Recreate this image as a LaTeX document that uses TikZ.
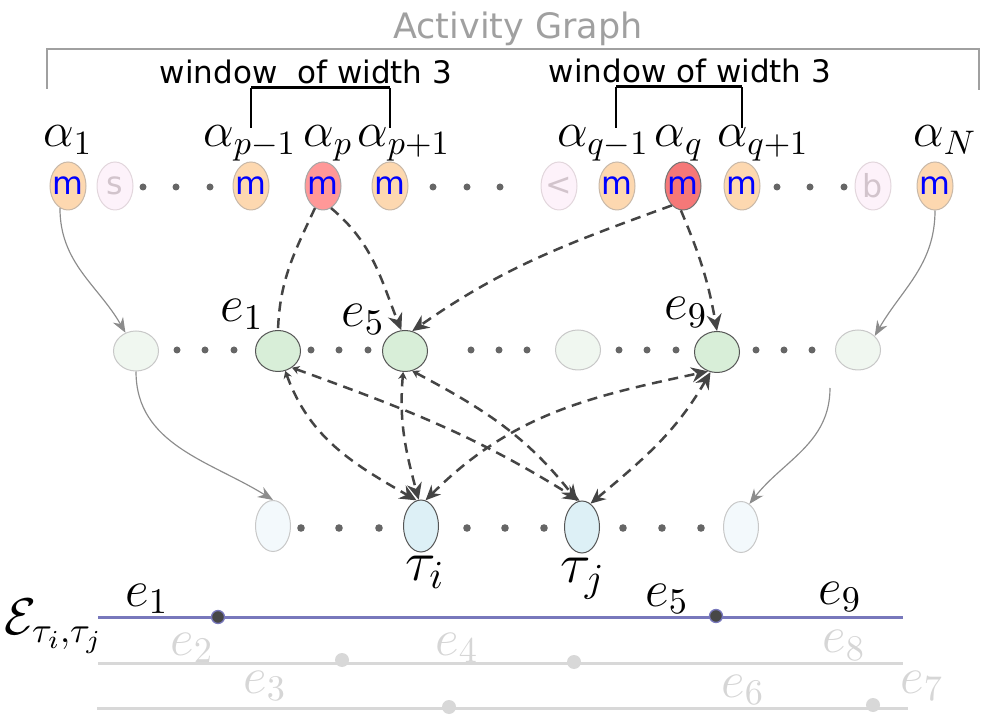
\RequirePackage{fix-cm}
\documentclass[tikz,border=0pt]{standalone}
\usepackage[no-math]{fontspec}
\newfontfamily\dv{DejaVu Sans}
\usetikzlibrary{shapes.geometric,arrows.meta}
\definecolor{peach}{HTML}{FDD8B0}
\definecolor{peachedge}{HTML}{C8B8A8}
\definecolor{redA}{HTML}{FF9898}
\definecolor{redB}{HTML}{F57878}
\definecolor{fadefill}{HTML}{FDF2FA}
\definecolor{fadeedge}{HTML}{E2D6DC}
\definecolor{fadetext}{HTML}{D2C4CC}
\definecolor{greenfill}{HTML}{D8EED8}
\definecolor{greenfade}{HTML}{F0F7F0}
\definecolor{bluefill}{HTML}{DDF0F6}
\definecolor{bluefade}{HTML}{F3F9FC}
\definecolor{darkedge}{HTML}{555555}
\definecolor{lightedge}{HTML}{C8C8C8}
\definecolor{dotgray}{HTML}{666666}
\definecolor{arrdark}{HTML}{444444}
\definecolor{arrgray}{HTML}{8C8C8C}
\definecolor{lineblue}{HTML}{7878BC}
\definecolor{linegray}{HTML}{D8D8D8}
\definecolor{labgray}{HTML}{D6D6D6}
\definecolor{titlegray}{HTML}{A0A0A0}
\newcommand\zw[1]{\makebox[0pt]{#1}}
\begin{document}
\begin{tikzpicture}[x=0.3pt,y=0.3pt,
  base/.style={ellipse, inner sep=0pt, line width=0.3pt},
  mnode/.style={base, draw=peachedge, fill=peach, minimum width=10.8pt, minimum height=14.4pt, text=blue, font=\dv\fontsize{9.5}{10}\selectfont},
  rnodeA/.style={mnode, fill=redA, draw=black!35},
  rnodeB/.style={mnode, fill=redB, draw=black!55},
  fnode/.style={mnode, fill=fadefill, draw=fadeedge, text=fadetext},
  gnode/.style={base, draw=darkedge, fill=greenfill, minimum width=13.5pt, minimum height=12.3pt},
  gfade/.style={base, draw=lightedge, fill=greenfade, minimum width=13.5pt, minimum height=12pt},
  tnode/.style={base, draw=darkedge, fill=bluefill, minimum width=10.5pt, minimum height=15.6pt},
  tfade/.style={base, draw=lightedge, fill=bluefade, minimum width=10.5pt, minimum height=15.3pt},
  alab/.style={anchor=base, inner sep=0pt, font=\fontsize{14.6}{16}\selectfont},
  elab/.style={anchor=base, inner sep=0pt, font=\fontsize{15.5}{18}\selectfont},
  tlab/.style={anchor=base, inner sep=0pt, font=\fontsize{17}{20}\selectfont},
  glab/.style={elab, text=labgray},
  dasharr/.style={draw=arrdark, line width=0.75pt, dash pattern=on 3pt off 2pt, -{Stealth[length=5pt,width=4.5pt]}},
  dashsmall/.style={dasharr, {Stealth[length=2.2pt,width=2.6pt]}-{Stealth[length=5pt,width=4.5pt]}},
  dashboth/.style={dasharr, {Stealth[length=4.5pt,width=4pt]}-{Stealth[length=5pt,width=4.5pt]}},
  grayarr/.style={draw=arrgray, line width=0.35pt, -{Stealth[length=4.5pt,width=3.5pt]}},
  dot/.style={fill=dotgray}
]
\useasboundingbox (0,0) rectangle (984,716);

% title and brackets
\node[anchor=base, inner sep=0pt, text=titlegray, font=\dv\fontsize{10.5}{12}\selectfont] (title) at (518,677) {Activity Graph};
\draw[titlegray, line width=0.45pt] (47,627) -- (47,667) -- (979,667) -- (979,626);
\node[anchor=base, inner sep=0pt, font=\dv\fontsize{9.3}{11}\selectfont] (w1) at (306,632) {window\ \ of width 3};
\node[anchor=base, inner sep=0pt, font=\dv\fontsize{9.3}{11}\selectfont] (w2) at (690,633) {window of width 3};
\draw[line width=0.9pt] (251,628) -- (390,628);
\draw[line width=0.4pt] (251,628) -- (251,588) (390,628) -- (390,588);
\draw[line width=0.9pt] (616,629) -- (742,629);
\draw[line width=0.4pt] (616,629) -- (616,588) (742,629) -- (742,588);

% alpha labels
\node[alab] (la1) at (68,569) {$\alpha_1$};
\node[alab] (lap1) at (250,569) {$\alpha_{p-1}$};
\node[alab] (lap) at (328,569) {$\alpha_p$};
\node[alab] (lap2) at (404,569) {$\alpha_{p+1}$};
\node[alab] (laq1) at (603,569) {$\alpha_{q-1}$};
\node[alab] (laq) at (679,569) {$\alpha_q$};
\node[alab] (laq2) at (763,569) {$\alpha_{q+1}$};
\node[alab] (laN) at (945,569) {$\alpha_N$};

% top row
\node[mnode] (a1) at (68,530) {\zw{m}};
\node[fnode] (s1) at (115,530) {\zw{s}};
\node[mnode] (ap1) at (251,530) {\zw{m}};
\node[rnodeA] (ap) at (323,530) {\zw{m}};
\node[mnode] (ap2) at (390,530) {\zw{m}};
\node[fnode] (lt) at (559,530) {\zw{<}};
\node[mnode] (aq1) at (617,530) {\zw{m}};
\node[rnodeB] (aq) at (683,530) {\zw{m}};
\node[mnode] (aq2) at (742,530) {\zw{m}};
\node[fnode] (bb) at (873,530) {\zw{b}};
\node[mnode] (aN) at (935,530) {\zw{m}};
\foreach \x in {143,176,210,433,467,500,777,810,844} \fill[dot] (\x,529) circle (3.5);

% middle row
\node[gfade] (gL) at (136,365) {};
\node[gnode] (e1) at (278,365) {};
\node[gnode] (e5) at (405,365) {};
\node[gfade] (gM) at (578,366) {};
\node[gnode] (e9) at (717,364) {};
\node[gfade] (gR) at (858,366) {};
\foreach \x in {177,205,234,311,339,368,471,499,527,619,647,676,756,784,812} \fill[dot] (\x,366) circle (3.5);
\node[elab] (le1) at (242,394) {$e_1$};
\node[elab] (le5) at (363,389) {$e_5$};
\node[elab] (le9) at (686,396) {$e_9$};

% bottom row
\node[tfade] (bL) at (273,190) {};
\node[tnode] (ti) at (421,190) {};
\node[tnode] (tj) at (582,189) {};
\node[tfade] (bR) at (741,189) {};
\foreach \x in {301,339,379,467,505,544,623,662,701} \fill[dot] (\x,188) circle (3.8);
\node[tlab] (lti) at (425,136) {$\tau_i$};
\node[tlab] (ltj) at (583,133) {$\tau_j$};

% gray solid arrows
\draw[grayarr] (a1.250) to[out=-90,in=120] (gL.120);
\draw[grayarr] (gL.south) to[out=-90,in=148] (bL.north);
\draw[grayarr] (aN.south) to[out=-90,in=60] (gR.40);
\coordinate (gRb) at (830,328);
\draw[grayarr] (gRb) to[out=-90,in=52] (bR.70);

% dashed arrows top -> middle
\draw[dasharr,-] (ap.250) to[out=-115,in=88] (e1.north);
\draw[dasharr] (ap.290) to[out=-40,in=112] (e5.100);
\draw[dasharr] (aq.240) to[out=200,in=35] (e5.70);
\draw[dasharr] (aq.265) to[out=-67,in=100] (e9.north);

% dashed arrows middle <-> bottom
\draw[dashsmall] (e1.290) to[out=-70,in=150] (ti.100);
\draw[dashsmall] (e1.310) to[out=-20,in=148] (tj.95);
\draw[dashsmall] (e5.265) to[out=-95,in=105] (ti.95);
\draw[dashsmall] (e5.290) to[out=-28,in=128] (tj.100);
\draw[dashboth] (ti.80) to[out=45,in=192] (e9.245);
\draw[dashboth] (tj.70) to[out=40,in=240] (e9.252);

% event timelines
\draw[linegray, line width=0.9pt] (98,53) -- (903,53);
\draw[linegray, line width=0.9pt] (97,8) -- (908,8);
\draw[lineblue, line width=0.9pt] (98,99) -- (903,99);
\fill[linegray] (342,56) circle (7) (574,54) circle (7) (449,9) circle (7) (873,11) circle (7);
\filldraw[fill=black!72, draw=lineblue, line width=0.4pt] (218,99) circle (6.5) (716,100) circle (6.5);

\node[elab] (calE) at (54,81) {$\mathcal{E}_{\tau_i,\tau_j}$};
\node[elab] (b1) at (147,110) {$e_1$};
\node[elab] (b5) at (667,110) {$e_5$};
\node[elab] (b9) at (840,112) {$e_9$};
\node[glab] (b2) at (192,61) {$e_2$};
\node[glab] (b4) at (457,61) {$e_4$};
\node[glab] (b8) at (844,63) {$e_8$};
\node[glab] (b3) at (265,23) {$e_3$};
\node[glab] (b6) at (743,19) {$e_6$};
\node[glab] (b7) at (922,23) {$e_7$};
\end{tikzpicture}
\end{document}
